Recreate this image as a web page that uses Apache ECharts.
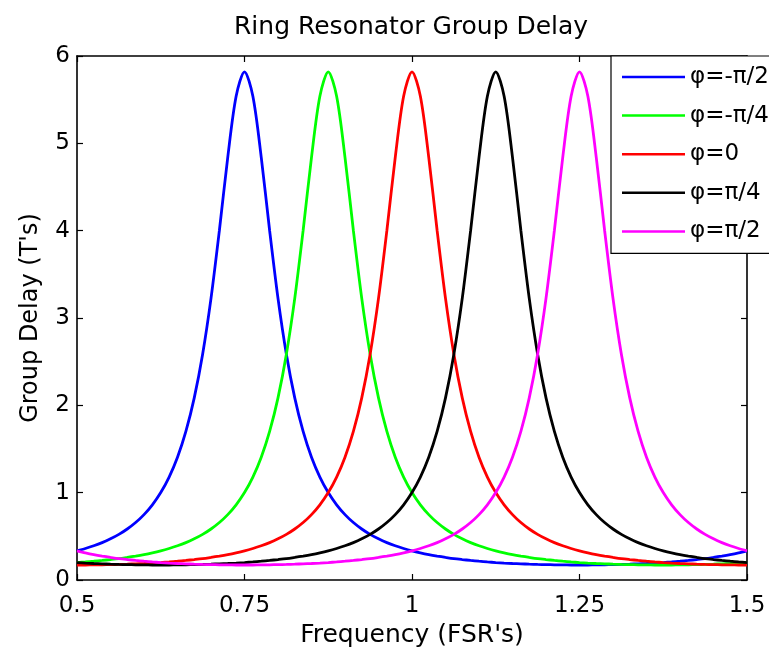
<!DOCTYPE html>
<html>
<head>
<meta charset="utf-8">
<script src="https://cdn.jsdelivr.net/npm/echarts@6/dist/echarts.min.js"></script>
<style>
html,body{margin:0;padding:0;background:#fff;}
#chart{width:769px;height:653px;}
</style>
</head>
<body>
<div id="chart"></div>
<script>
// Frequency samples (FSR's)
const freq = [
  0.5, 0.5125, 0.525, 0.5375, 0.55, 0.5625, 0.575, 0.5875, 0.6, 0.6125,
  0.625, 0.6375, 0.65, 0.6625, 0.675, 0.6875, 0.7, 0.7125, 0.725, 0.7375,
  0.75, 0.7625, 0.775, 0.7875, 0.8, 0.8125, 0.825, 0.8375, 0.85, 0.8625,
  0.875, 0.8875, 0.9, 0.9125, 0.925, 0.9375, 0.95, 0.9625, 0.975, 0.9875,
  1.0, 1.0125, 1.025, 1.0375, 1.05, 1.0625, 1.075, 1.0875, 1.1, 1.1125,
  1.125, 1.1375, 1.15, 1.1625, 1.175, 1.1875, 1.2, 1.2125, 1.225, 1.2375,
  1.25, 1.2625, 1.275, 1.2875, 1.3, 1.3125, 1.325, 1.3375, 1.35, 1.3625,
  1.375, 1.3875, 1.4, 1.4125, 1.425, 1.4375, 1.45, 1.4625, 1.475, 1.4875,
  1.5
];

// Group delay (T's)
const delayMinusPi2 = [
  0.334,0.361,0.392,0.428,0.471,0.522,0.584,0.658,0.749,0.861,
  1.001,1.179,1.406,1.701,2.085,2.585,3.225,4.002,4.840,5.539,
  5.819,5.539,4.840,4.002,3.225,2.585,2.085,1.701,1.406,1.179,
  1.001,0.861,0.749,0.658,0.584,0.522,0.471,0.428,0.392,0.361,
  0.334,0.311,0.291,0.274,0.259,0.245,0.234,0.224,0.215,0.207,
  0.200,0.194,0.189,0.185,0.181,0.178,0.176,0.174,0.173,0.172,
  0.172,0.172,0.173,0.174,0.176,0.178,0.181,0.185,0.189,0.194,
  0.200,0.207,0.215,0.224,0.234,0.245,0.259,0.274,0.291,0.311,
  0.334
];
const delayMinusPi4 = [
  0.200,0.207,0.215,0.224,0.234,0.245,0.259,0.274,0.291,0.311,
  0.334,0.361,0.392,0.428,0.471,0.522,0.584,0.658,0.749,0.861,
  1.001,1.179,1.406,1.701,2.085,2.585,3.225,4.002,4.840,5.539,
  5.819,5.539,4.840,4.002,3.225,2.585,2.085,1.701,1.406,1.179,
  1.001,0.861,0.749,0.658,0.584,0.522,0.471,0.428,0.392,0.361,
  0.334,0.311,0.291,0.274,0.259,0.245,0.234,0.224,0.215,0.207,
  0.200,0.194,0.189,0.185,0.181,0.178,0.176,0.174,0.173,0.172,
  0.172,0.172,0.173,0.174,0.176,0.178,0.181,0.185,0.189,0.194,
  0.200
];
const delayZero = [
  0.172,0.172,0.173,0.174,0.176,0.178,0.181,0.185,0.189,0.194,
  0.200,0.207,0.215,0.224,0.234,0.245,0.259,0.274,0.291,0.311,
  0.334,0.361,0.392,0.428,0.471,0.522,0.584,0.658,0.749,0.861,
  1.001,1.179,1.406,1.701,2.085,2.585,3.225,4.002,4.840,5.539,
  5.819,5.539,4.840,4.002,3.225,2.585,2.085,1.701,1.406,1.179,
  1.001,0.861,0.749,0.658,0.584,0.522,0.471,0.428,0.392,0.361,
  0.334,0.311,0.291,0.274,0.259,0.245,0.234,0.224,0.215,0.207,
  0.200,0.194,0.189,0.185,0.181,0.178,0.176,0.174,0.173,0.172,
  0.172
];
const delayPi4 = [
  0.200,0.194,0.189,0.185,0.181,0.178,0.176,0.174,0.173,0.172,
  0.172,0.172,0.173,0.174,0.176,0.178,0.181,0.185,0.189,0.194,
  0.200,0.207,0.215,0.224,0.234,0.245,0.259,0.274,0.291,0.311,
  0.334,0.361,0.392,0.428,0.471,0.522,0.584,0.658,0.749,0.861,
  1.001,1.179,1.406,1.701,2.085,2.585,3.225,4.002,4.840,5.539,
  5.819,5.539,4.840,4.002,3.225,2.585,2.085,1.701,1.406,1.179,
  1.001,0.861,0.749,0.658,0.584,0.522,0.471,0.428,0.392,0.361,
  0.334,0.311,0.291,0.274,0.259,0.245,0.234,0.224,0.215,0.207,
  0.200
];
const delayPi2 = [
  0.334,0.311,0.291,0.274,0.259,0.245,0.234,0.224,0.215,0.207,
  0.200,0.194,0.189,0.185,0.181,0.178,0.176,0.174,0.173,0.172,
  0.172,0.172,0.173,0.174,0.176,0.178,0.181,0.185,0.189,0.194,
  0.200,0.207,0.215,0.224,0.234,0.245,0.259,0.274,0.291,0.311,
  0.334,0.361,0.392,0.428,0.471,0.522,0.584,0.658,0.749,0.861,
  1.001,1.179,1.406,1.701,2.085,2.585,3.225,4.002,4.840,5.539,
  5.819,5.539,4.840,4.002,3.225,2.585,2.085,1.701,1.406,1.179,
  1.001,0.861,0.749,0.658,0.584,0.522,0.471,0.428,0.392,0.361,
  0.334
];

const seriesNames = ['φ=-π/2', 'φ=-π/4', 'φ=0', 'φ=π/4', 'φ=π/2'];
const seriesValues = [delayMinusPi2, delayMinusPi4, delayZero, delayPi4, delayPi2];
const seriesColors = ['#0000ff', '#00ff00', '#ff0000', '#000000', '#ff00ff'];

const xTicks = ['0.5', '0.75', '1', '1.25', '1.5'];
const yTicks = ['0', '1', '2', '3', '4', '5', '6'];

const FONT = 'DejaVu Sans';
const axisColor = '#000';

function mkX(pos, main) {
  return {
    type: 'value', position: pos, min: 0.5, max: 1.5, interval: 0.25,
    axisLine: { show: true, onZero: false, lineStyle: { color: axisColor, width: 1.6 } },
    axisTick: { show: true, inside: true, length: 6, lineStyle: { color: axisColor, width: 1.2 } },
    axisLabel: main ? {
      show: true, margin: 15, color: '#000', fontFamily: FONT, fontSize: 23,
      formatter: function (v) { const k = Math.round((v - 0.5) / 0.25); return xTicks[k] !== undefined ? xTicks[k] : ''; }
    } : { show: false },
    splitLine: { show: false },
    name: main ? "Frequency (FSR's)" : '',
    nameLocation: 'middle', nameGap: 40,
    nameTextStyle: { color: '#000', fontFamily: FONT, fontSize: 25 }
  };
}
function mkY(pos, main) {
  return {
    type: 'value', position: pos, min: 0, max: 6, interval: 1,
    axisLine: { show: true, onZero: false, lineStyle: { color: axisColor, width: 1.6 } },
    axisTick: { show: true, inside: true, length: 6, lineStyle: { color: axisColor, width: 1.2 } },
    axisLabel: main ? {
      show: true, margin: 7, color: '#000', fontFamily: FONT, fontSize: 23,
      formatter: function (v) { const k = Math.round(v); return yTicks[k] !== undefined ? yTicks[k] : ''; }
    } : { show: false },
    splitLine: { show: false },
    name: main ? "Group Delay (T's)" : '',
    nameLocation: 'middle', nameGap: 34,
    nameTextStyle: { color: '#000', fontFamily: FONT, fontSize: 24 }
  };
}

const chart = echarts.init(document.getElementById('chart'), null, { renderer: 'canvas' });
chart.setOption({
  backgroundColor: '#ffffff',
  animation: false,
  title: {
    text: 'Ring Resonator Group Delay',
    left: 229, top: 10,
    textStyle: { color: '#000', fontFamily: FONT, fontSize: 25, fontWeight: 'normal' }
  },
  grid: { left: 77, right: 22, top: 56, bottom: 73, containLabel: false },
  xAxis: [mkX('bottom', true), mkX('top', false)],
  yAxis: [mkY('left', true), mkY('right', false)],
  legend: {
    orient: 'vertical',
    left: 611, top: 56,
    padding: [9, 40, 10, 11],
    itemGap: 14.6,
    itemWidth: 63, itemHeight: 2.5,
    icon: 'rect',
    backgroundColor: '#ffffff',
    borderColor: '#000', borderWidth: 1.2,
    textStyle: { color: '#000', fontFamily: FONT, fontSize: 23, lineHeight: 24 },
    data: seriesNames
  },
  series: seriesNames.map(function (name, s) {
    return {
      name: name, type: 'line',
      xAxisIndex: 0, yAxisIndex: 0,
      showSymbol: false, symbol: 'none',
      smooth: 0.3,
      lineStyle: { color: seriesColors[s], width: 2.8 },
      itemStyle: { color: seriesColors[s] },
      data: freq.map(function (f, i) { return [f, seriesValues[s][i]]; })
    };
  })
});
</script>
</body>
</html>
